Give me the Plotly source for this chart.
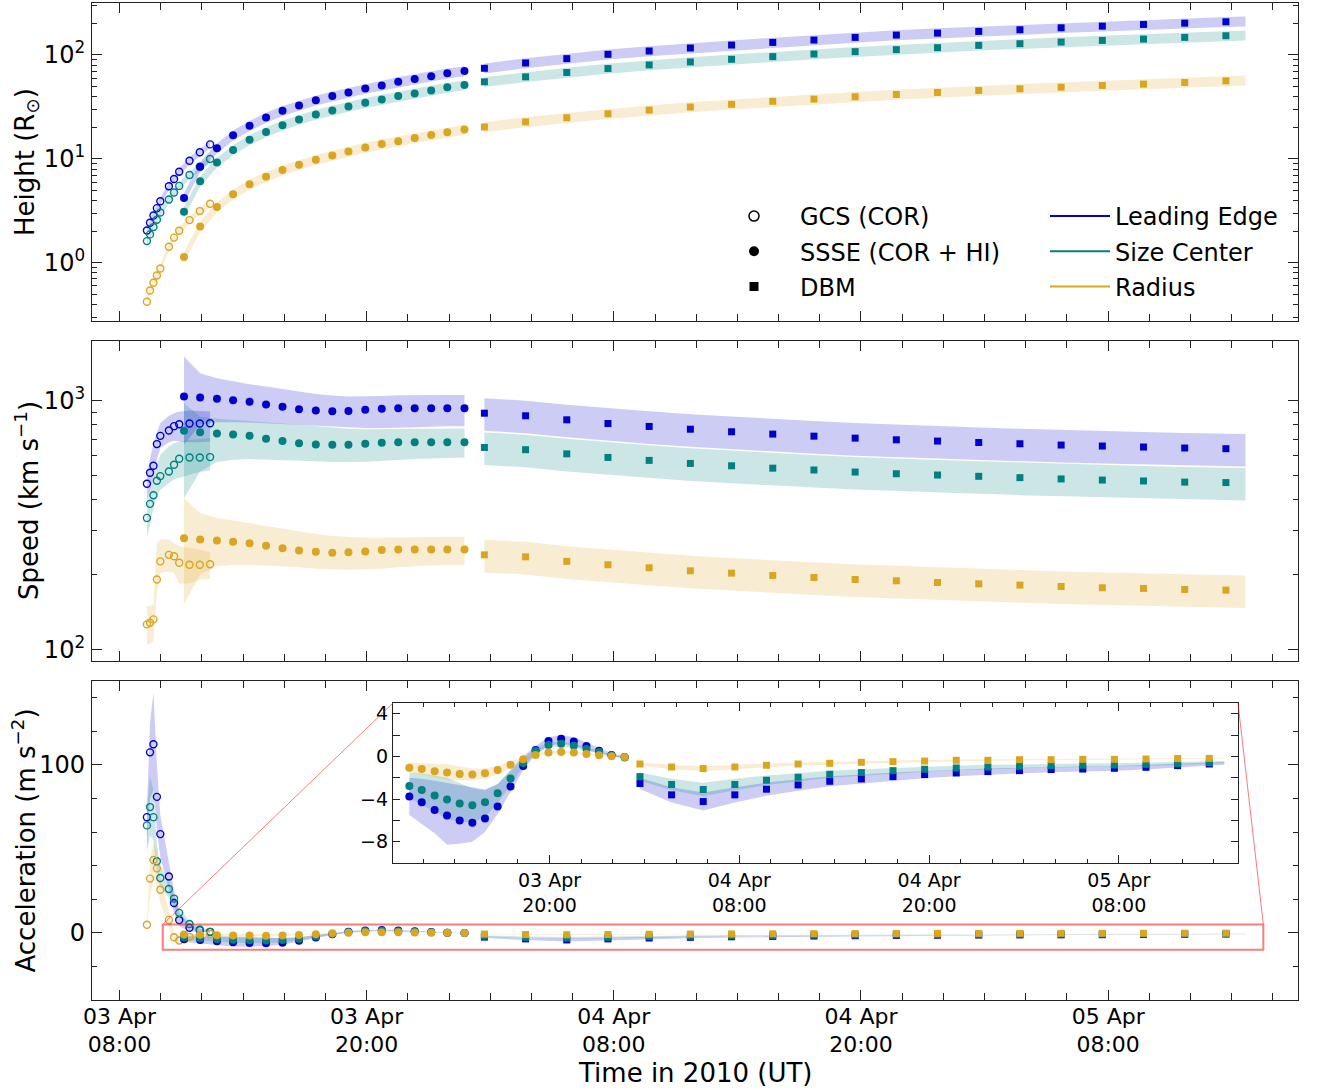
import plotly.graph_objects as go
import pandas as pd

W, H = 1317, 1090

# ---------------- data ----------------
gcs_time = ["2010-04-03 09:20", "2010-04-03 09:29", "2010-04-03 09:39", "2010-04-03 09:49",
            "2010-04-03 09:59", "2010-04-03 10:24", "2010-04-03 10:39", "2010-04-03 10:54",
            "2010-04-03 11:24", "2010-04-03 11:54", "2010-04-03 12:24"]
ssse_time = ["2010-04-03 11:08", "2010-04-03 11:55", "2010-04-03 12:44", "2010-04-03 13:31",
             "2010-04-03 14:19", "2010-04-03 15:07", "2010-04-03 15:55", "2010-04-03 16:43",
             "2010-04-03 17:32", "2010-04-03 18:20", "2010-04-03 19:07", "2010-04-03 19:56",
             "2010-04-03 20:44", "2010-04-03 21:32", "2010-04-03 22:20", "2010-04-03 23:08",
             "2010-04-03 23:55", "2010-04-04 00:45"]
dbm_time = ["2010-04-04 01:43", "2010-04-04 03:43", "2010-04-04 05:43", "2010-04-04 07:43",
            "2010-04-04 09:43", "2010-04-04 11:43", "2010-04-04 13:43", "2010-04-04 15:43",
            "2010-04-04 17:43", "2010-04-04 19:43", "2010-04-04 21:43", "2010-04-04 23:43",
            "2010-04-05 01:43", "2010-04-05 03:43", "2010-04-05 05:43", "2010-04-05 07:43",
            "2010-04-05 09:43", "2010-04-05 11:43", "2010-04-05 13:43"]
dbm_band_end_time = "2010-04-05 14:40"

# Height (R_sun)
h_gcs_le = [2.05, 2.43, 2.86, 3.36, 3.92, 5.46, 6.41, 7.54, 9.60, 11.6, 13.8]
h_gcs_sc = [1.62, 1.88, 2.21, 2.60, 3.05, 4.07, 4.75, 5.50, 7.00, 8.41, 10.0]
h_gcs_r = [0.423, 0.543, 0.644, 0.756, 0.883, 1.43, 1.75, 2.04, 2.58, 3.15, 3.70]
h_ssse_le = [4.22, 8.41, 12.7, 16.9, 20.9, 25.0, 29.1, 32.7, 36.6, 40.2, 43.6, 47.6, 50.9, 55.2, 58.9, 62.5, 66.8, 70.3]
h_ssse_sc = [3.10, 6.09, 9.26, 12.2, 15.3, 18.2, 21.1, 23.9, 26.7, 29.3, 32.0, 34.7, 37.4, 40.3, 42.7, 45.6, 48.8, 51.3]
h_ssse_r = [1.14, 2.24, 3.44, 4.57, 5.70, 6.75, 7.81, 8.79, 9.82, 10.8, 11.8, 12.9, 13.9, 14.8, 15.9, 17.0, 18.1, 19.2]
h_dbm_le = [74.5, 83.8, 92.2, 101.5, 109.2, 116.7, 124.6, 132.2, 139.2, 147.6, 155.4, 162.4, 168.5, 174.8, 182.6, 189.5, 196.6, 202.4, 208.5]
h_dbm_sc = [55.2, 61.6, 67.8, 74.0, 80.2, 85.7, 90.9, 96.4, 102.2, 107.6, 112.5, 117.5, 123.8, 128.4, 133.2, 138.1, 142.2, 147.6, 153.1]
h_dbm_r = [20.3, 22.7, 24.9, 27.2, 29.5, 31.6, 33.5, 35.8, 37.6, 39.6, 41.7, 43.6, 45.6, 47.3, 49.0, 50.9, 52.4, 54.4, 56.4]
h_dbm_end = [211.0, 155.0, 57.2]          # LE, SC, R at band end
h_rel_unc = {"gcs": 0.08, "ssse": 0.11, "dbm": 0.11}

# Speed (km/s)
v_gcs_le = [464, 514, 548, 670, 723, 760, 791, 805, 811, 811, 813]
v_gcs_sc = [338, 385, 417, 477, 498, 520, 553, 585, 592, 592, 594]
v_gcs_r = [126, 128, 132, 191, 226, 240, 237, 223, 219, 219, 220]
v_gcs_le_hi = [497, 589, 666, 748, 813, 871, 892, 906, 914, 912, 906]
v_gcs_le_lo = [394, 432, 489, 580, 646, 682, 691, 687, 682, 682, 687]
v_gcs_sc_hi = [382, 432, 489, 553, 607, 656, 676, 687, 697, 704, 708]
v_gcs_sc_lo = [281, 318, 371, 413, 439, 467, 482, 489, 504, 517, 524]
v_gcs_r_hi = [149, 149, 152, 268, 277, 277, 268, 260, 256, 252, 246]
v_gcs_r_lo = [105, 105, 108, 169, 203, 206, 203, 184, 184, 191, 192]
v_ssse_le = [1041, 1031, 1019, 1006, 991, 967, 946, 926, 914, 909, 911, 920, 929, 934, 934, 934, 934, 934]
v_ssse_sc = [758, 748, 739, 732, 723, 704, 689, 676, 668, 666, 666, 672, 678, 682, 682, 682, 682, 682]
v_ssse_r = [280, 277, 274, 271, 267, 261, 255, 250, 247, 245, 246, 247.5, 251, 252, 252, 252, 252, 252]
v_ssse_le_hi = [1507, 1291, 1233, 1196, 1167, 1142, 1114, 1090, 1067, 1050, 1041, 1041, 1047, 1054, 1057, 1057, 1057, 1057]
v_ssse_le_lo = [666, 801, 821, 821, 818, 814, 808, 801, 795, 789, 783, 777, 777, 780, 785, 789, 791, 791]
v_ssse_sc_hi = [979, 865, 847, 839, 831, 821, 811, 801, 791, 782, 772, 769, 769, 772, 774, 774, 774, 774]
v_ssse_sc_lo = [406, 520, 567, 580, 583, 581, 578, 574, 571, 567, 567, 569, 572, 578, 583, 587, 590, 592]
v_ssse_r_hi = [406, 354, 338, 330, 321, 313, 306, 299, 291, 286, 283, 281, 281, 282, 283, 284, 284, 284]
v_ssse_r_lo = [152, 200, 216, 219, 219, 218, 216, 214, 211, 210, 209, 210, 211, 214, 216, 218, 219, 219]
v_dbm_le = [892, 871, 839, 811, 789, 769, 751, 735, 721, 708, 697, 689, 680, 672, 664, 658, 652, 646, 642]
v_dbm_sc = [649, 636, 612, 592, 576, 560, 548, 536, 527, 517, 509, 503, 497, 491, 485, 480, 476, 471, 469]
v_dbm_r = [240, 235.5, 226, 219, 213, 207, 202.6, 198.3, 194.6, 191, 188.7, 185.8, 183.5, 181.3, 179, 176.9, 175.8, 174.2, 173.1]
v_dbm_end = [640, 467, 172.5]
v_dbm_rel_unc = 0.15

# Acceleration (m/s^2)
a_gcs_le = [68.9, 107.5, 112.3, 81.0, 58.8, 33.6, 17.8, 7.6, 3.0, 1.6, 0.6]
a_gcs_sc = [64.0, 74.9, 68.9, 42.6, 32.7, 26.1, 20.4, 11.9, 5.3, 2.0, 0.6]
a_gcs_r = [4.8, 32.3, 43.4, 38.4, 25.7, 7.7, -2.6, -4.6, -2.4, -1.5, -0.6]
a_gcs_le_hi = [73, 125, 143, 100, 70, 42, 25, 12, 5, 2.5, 1.2]
a_gcs_le_lo = [50, 80, 85, 62, 45, 26, 12, 4, 1, 0.5, 0]
a_gcs_sc_hi = [75, 93, 85, 52, 40, 30, 23, 14, 7, 3, 1.2]
a_gcs_sc_lo = [48, 58, 55, 35, 27, 21, 16, 9, 3.5, 1, 0]
a_gcs_r_hi = [6, 42, 54, 48, 33, 13, 0, -2, -1, -0.5, 0]
a_gcs_r_lo = [3.5, 22, 32, 28, 18, 3, -5, -7, -4, -2, -1]
a_ssse_le = [-3.77, -4.30, -5.02, -5.55, -6.01, -6.23, -5.83, -4.70, -2.83, -0.90, 0.59, 1.43, 1.65, 1.40, 0.96, 0.53, 0.12, -0.06]
a_ssse_sc = [-2.78, -3.15, -3.67, -4.05, -4.42, -4.58, -4.30, -3.46, -2.08, -0.62, 0.50, 1.06, 1.19, 1.00, 0.68, 0.40, 0.09, -0.12]
a_ssse_r = [-1.06, -1.19, -1.40, -1.52, -1.65, -1.71, -1.59, -1.28, -0.78, -0.28, 0.12, 0.37, 0.40, 0.35, 0.22, 0.09, 0.0, -0.06]
a_ssse_le_hi = [-2.0, -2.1, -2.3, -2.5, -2.7, -2.9, -3.1, -2.6, -1.3, 0.0, 1.0, 1.8, 2.0, 1.8, 1.3, 0.8, 0.3, 0.05]
a_ssse_le_lo = [-5.5, -6.3, -7.2, -8.3, -8.2, -8.0, -7.1, -5.4, -3.3, -1.3, 0.2, 1.0, 1.2, 1.0, 0.6, 0.3, 0.0, -0.15]
a_ssse_sc_hi = [-1.5, -1.6, -1.8, -2.0, -2.5, -3.0, -3.2, -2.6, -1.4, -0.2, 0.8, 1.3, 1.4, 1.2, 0.85, 0.5, 0.15, -0.05]
a_ssse_sc_lo = [-3.9, -4.5, -5.2, -5.9, -6.1, -6.2, -5.7, -4.4, -2.7, -0.95, 0.25, 0.8, 0.95, 0.8, 0.5, 0.3, 0.0, -0.2]
a_ssse_r_hi = [-0.6, -0.65, -0.7, -0.75, -0.95, -1.15, -1.15, -0.85, -0.45, -0.05, 0.3, 0.5, 0.52, 0.45, 0.32, 0.18, 0.07, 0.0]
a_ssse_r_lo = [-1.45, -1.7, -1.95, -2.2, -2.25, -2.25, -2.1, -1.7, -1.1, -0.5, -0.05, 0.22, 0.28, 0.25, 0.12, 0.0, -0.07, -0.12]
a_dbm_le = [-2.55, -3.61, -4.24, -3.61, -3.08, -2.68, -2.34, -2.12, -1.90, -1.71, -1.56, -1.43, -1.34, -1.24, -1.19, -1.12, -1.03, -0.87, -0.72]
a_dbm_sc = [-1.90, -2.64, -3.11, -2.64, -2.24, -1.96, -1.68, -1.52, -1.34, -1.21, -1.09, -1.00, -0.93, -0.87, -0.84, -0.81, -0.75, -0.68, -0.59]
a_dbm_r = [-0.72, -1.00, -1.15, -1.00, -0.84, -0.72, -0.65, -0.56, -0.50, -0.44, -0.37, -0.37, -0.31, -0.31, -0.28, -0.28, -0.25, -0.21, -0.19]
a_dbm_end = [-0.66, -0.55, -0.17]
a_dbm_rel_unc = 0.20

x_range = ["2010-04-03 06:40", "2010-04-05 17:13"]
inset_x_range = ["2010-04-03 10:06", "2010-04-05 15:32"]
inset_y_range = [-10, 5]
acc_range = [-40, 150]

x_tick0 = "2010-04-03 08:00"
legend_methods = ["GCS (COR)", "SSSE (COR + HI)", "DBM"]
legend_features = ["Leading Edge", "Size Center", "Radius"]

# ---------------- styling ----------------
C_LE, C_SC, C_R = "#0000CD", "#008080", "#DAA520"
COLORS = [C_LE, C_SC, C_R]
FONT = "DejaVu Sans"


def rgba(h, a):
    h = h.lstrip("#")
    return "rgba(%d,%d,%d,%s)" % (int(h[0:2], 16), int(h[2:4], 16), int(h[4:6], 16), a)


XD = [92 / W, 1298 / W]
YD1 = [1 - 321 / H, 1 - 3 / H]
YD2 = [1 - 661 / H, 1 - 341 / H]
YD3 = [1 - 1000 / H, 1 - 681 / H]
XD4 = [393 / W, 1238 / W]
YD4 = [1 - 863 / H, 1 - 703 / H]

fig = go.Figure()


def add_band(x, lo, hi, color, xa, ya):
    x = list(x)
    fig.add_trace(go.Scatter(x=x + x[::-1], y=list(hi) + list(lo)[::-1], fill="toself",
                             fillcolor=rgba(color, 0.2), line=dict(width=0, color=rgba(color, 0)),
                             mode="lines", hoverinfo="skip", showlegend=False, xaxis=xa, yaxis=ya))


def add_pts(x, y, color, kind, xa, ya):
    if kind == "open":
        m = dict(symbol="circle-open", size=7, color=color, line=dict(width=1.4, color=color))
    elif kind == "filled":
        m = dict(symbol="circle", size=8, color=color, line=dict(width=0))
    else:
        m = dict(symbol="square", size=7, color=color, line=dict(width=0))
    fig.add_trace(go.Scatter(x=x, y=y, mode="markers", marker=m, showlegend=False,
                             xaxis=xa, yaxis=ya))


def rel_band(vals, r):
    return [v * (1 - r) for v in vals], [v * (1 + r) for v in vals]


dbm_band_time = dbm_time + [dbm_band_end_time]

# ---- Panel 1: height ----
h_sets = {"gcs": [h_gcs_le, h_gcs_sc, h_gcs_r], "ssse": [h_ssse_le, h_ssse_sc, h_ssse_r],
          "dbm": [h_dbm_le, h_dbm_sc, h_dbm_r]}
for i, c in enumerate(COLORS):
    lo, hi = rel_band(h_sets["gcs"][i], h_rel_unc["gcs"])
    add_band(gcs_time, lo, hi, c, "x", "y")
    lo, hi = rel_band(h_sets["ssse"][i], h_rel_unc["ssse"])
    add_band(ssse_time, lo, hi, c, "x", "y")
    lo, hi = rel_band(h_sets["dbm"][i] + [h_dbm_end[i]], h_rel_unc["dbm"])
    add_band(dbm_band_time, lo, hi, c, "x", "y")
for i, c in enumerate(COLORS):
    add_pts(gcs_time, h_sets["gcs"][i], c, "open", "x", "y")
for i, c in enumerate(COLORS):
    add_pts(ssse_time, h_sets["ssse"][i], c, "filled", "x", "y")
for i, c in enumerate(COLORS):
    add_pts(dbm_time, h_sets["dbm"][i], c, "square", "x", "y")

# ---- Panel 2: speed ----
v_gcs = [v_gcs_le, v_gcs_sc, v_gcs_r]
v_gcs_band = [(v_gcs_le_lo, v_gcs_le_hi), (v_gcs_sc_lo, v_gcs_sc_hi), (v_gcs_r_lo, v_gcs_r_hi)]
v_ssse = [v_ssse_le, v_ssse_sc, v_ssse_r]
v_ssse_band = [(v_ssse_le_lo, v_ssse_le_hi), (v_ssse_sc_lo, v_ssse_sc_hi), (v_ssse_r_lo, v_ssse_r_hi)]
v_dbm = [v_dbm_le, v_dbm_sc, v_dbm_r]
for i, c in enumerate(COLORS):
    add_band(gcs_time, v_gcs_band[i][0], v_gcs_band[i][1], c, "x2", "y2")
    add_band(ssse_time, v_ssse_band[i][0], v_ssse_band[i][1], c, "x2", "y2")
    lo, hi = rel_band(v_dbm[i] + [v_dbm_end[i]], v_dbm_rel_unc)
    add_band(dbm_band_time, lo, hi, c, "x2", "y2")
for i, c in enumerate(COLORS):
    add_pts(gcs_time, v_gcs[i], c, "open", "x2", "y2")
for i, c in enumerate(COLORS):
    add_pts(ssse_time, v_ssse[i], c, "filled", "x2", "y2")
for i, c in enumerate(COLORS):
    add_pts(dbm_time, v_dbm[i], c, "square", "x2", "y2")

# ---- Panel 3 (+ inset): acceleration ----
a_gcs = [a_gcs_le, a_gcs_sc, a_gcs_r]
a_gcs_band = [(a_gcs_le_lo, a_gcs_le_hi), (a_gcs_sc_lo, a_gcs_sc_hi), (a_gcs_r_lo, a_gcs_r_hi)]
a_ssse = [a_ssse_le, a_ssse_sc, a_ssse_r]
a_ssse_band = [(a_ssse_le_lo, a_ssse_le_hi), (a_ssse_sc_lo, a_ssse_sc_hi), (a_ssse_r_lo, a_ssse_r_hi)]
a_dbm = [a_dbm_le, a_dbm_sc, a_dbm_r]
for xa, ya, with_gcs in [("x3", "y3", True), ("x4", "y4", False)]:
    for i, c in enumerate(COLORS):
        if with_gcs:
            add_band(gcs_time, a_gcs_band[i][0], a_gcs_band[i][1], c, xa, ya)
        add_band(ssse_time, a_ssse_band[i][0], a_ssse_band[i][1], c, xa, ya)
        lo, hi = rel_band(a_dbm[i] + [a_dbm_end[i]], a_dbm_rel_unc)
        add_band(dbm_band_time, lo, hi, c, xa, ya)
    if with_gcs:
        for i, c in enumerate(COLORS):
            add_pts(gcs_time, a_gcs[i], c, "open", xa, ya)
    for i, c in enumerate(COLORS):
        add_pts(ssse_time, a_ssse[i], c, "filled", xa, ya)
    for i, c in enumerate(COLORS):
        add_pts(dbm_time, a_dbm[i], c, "square", xa, ya)

# ---- legend entries ----
leg_markers = [dict(symbol="circle-open", size=10, color="black", line=dict(width=1.5, color="black")),
               dict(symbol="circle", size=10, color="black"),
               dict(symbol="square", size=9, color="black")]
for i, name in enumerate(legend_methods):
    fig.add_trace(go.Scatter(x=[None], y=[None], mode="markers", marker=leg_markers[i], name=name,
                             legend="legend", legendgroup="m%d" % i, xaxis="x", yaxis="y"))
for i, name in enumerate(legend_features):
    fig.add_trace(go.Scatter(x=[None], y=[None], mode="lines", line=dict(color=COLORS[i], width=2),
                             name=name, legend="legend2", legendgroup="f%d" % i, xaxis="x", yaxis="y"))

# ---------------- axes ----------------
H12 = 12 * 3600 * 1000
H2 = 2 * 3600 * 1000
tick_common = dict(showline=True, linecolor="#222", linewidth=1.2, mirror="allticks", ticks="inside",
                   showgrid=False, zeroline=False, tickcolor="#222", tickwidth=1.2, automargin=False)


def date_axis(domain, anchor, show_labels, rng, size, ticklen, minorlen, **kw):
    d = dict(tick_common, domain=domain, anchor=anchor, type="date", range=rng,
             tickmode="linear", tick0=x_tick0, dtick=H12, tickformat="%d %b<br>%H:%M",
             showticklabels=show_labels, ticklen=ticklen,
             tickfont=dict(family=FONT, size=size, color="black"),
             minor=dict(ticks="inside", dtick=H2, tick0=x_tick0, ticklen=minorlen,
                        tickcolor="#222", tickwidth=1.2, showgrid=False))
    d.update(kw)
    return d


def log_minor(decades):
    vals = []
    for d in decades:
        vals += [k * 10 ** d for k in range(2, 10)]
    return vals


fig.update_layout(
    width=W, height=H, margin=dict(l=0, r=0, t=0, b=0, autoexpand=False),
    paper_bgcolor="white", plot_bgcolor="white",
    font=dict(family=FONT, color="black"),
    xaxis=date_axis(XD, "y", False, x_range, 22, 10, 7),
    xaxis2=date_axis(XD, "y2", False, x_range, 22, 10, 7, matches="x"),
    xaxis3=date_axis(XD, "y3", True, x_range, 22, 10, 7, matches="x", ticklabelstandoff=-4),
    xaxis4=date_axis(XD4, "y4", True, inset_x_range, 19, 8, 4),
    yaxis=dict(tick_common, domain=YD1, anchor="x", type="log", range=[-0.559, 2.50],
               tickmode="array", tickvals=[1, 10, 100],
               ticktext=["10<sup>0</sup>", "10<sup>1</sup>", "10<sup>2</sup>"], ticklen=10,
               tickfont=dict(family=FONT, size=24, color="black"), ticklabelstandoff=1,
               minor=dict(ticks="inside", tickmode="array", tickvals=log_minor([-1, 0, 1, 2]),
                          ticklen=5, tickcolor="#222", tickwidth=1.2, showgrid=False)),
    yaxis2=dict(tick_common, domain=YD2, anchor="x2", type="log", range=[1.953, 3.241],
                tickmode="array", tickvals=[100, 1000],
                ticktext=["10<sup>2</sup>", "10<sup>3</sup>"], ticklen=10,
                tickfont=dict(family=FONT, size=24, color="black"), ticklabelstandoff=1,
                minor=dict(ticks="inside", tickmode="array", tickvals=log_minor([1, 2, 3]),
                           ticklen=5, tickcolor="#222", tickwidth=1.2, showgrid=False)),
    yaxis3=dict(tick_common, domain=YD3, anchor="x3", range=acc_range, tickmode="linear",
                tick0=0, dtick=100, ticklen=10,
                tickfont=dict(family=FONT, size=24, color="black"), ticklabelstandoff=1,
                minor=dict(ticks="inside", dtick=20, tick0=0, ticklen=5, tickcolor="#222",
                           tickwidth=1.2, showgrid=False)),
    yaxis4=dict(tick_common, domain=YD4, anchor="x4", range=inset_y_range, tickmode="linear",
                tick0=0, dtick=4, ticklen=7,
                tickfont=dict(family=FONT, size=19, color="black"),
                minor=dict(ticks="inside", dtick=2, tick0=0, ticklen=7, tickcolor="#222",
                           tickwidth=1.2, showgrid=False)),
    legend=dict(x=708 / W, y=1 - 194 / H, xanchor="left", yanchor="top",
                font=dict(family=FONT, size=24, color="black"), bgcolor="rgba(0,0,0,0)",
                itemwidth=82, tracegroupgap=1),
    legend2=dict(x=1045 / W, y=1 - 194 / H, xanchor="left", yanchor="top",
                 font=dict(family=FONT, size=24, color="black"), bgcolor="rgba(0,0,0,0)",
                 itemwidth=60, tracegroupgap=1),
)

# ---------------- annotations (axis titles) ----------------
titles = [("Height (R<sub>⊙</sub>)", (YD1[0] + YD1[1]) / 2, 27),
          ("Speed (km s<sup>−1</sup>)", (YD2[0] + YD2[1]) / 2, 27),
          ("Acceleration (m s<sup>−2</sup>)", (YD3[0] + YD3[1]) / 2, 24)]
for txt, yc, xpx in titles:
    fig.add_annotation(text=txt, x=xpx / W, y=yc, xref="paper", yref="paper", textangle=-90,
                       showarrow=False, xanchor="center", yanchor="middle",
                       font=dict(family=FONT, size=26, color="black"))
fig.add_annotation(text="Time in 2010 (UT)", x=(XD[0] + XD[1]) / 2, y=1 - 1073 / H,
                   xref="paper", yref="paper", showarrow=False, xanchor="center", yanchor="middle",
                   font=dict(family=FONT, size=26, color="black"))

# ---------------- inset indicator ----------------
X0, X1 = pd.Timestamp(x_range[0]), pd.Timestamp(x_range[1])


def xpaper(ts):
    f = (pd.Timestamp(ts) - X0) / (X1 - X0)
    return XD[0] + f * (XD[1] - XD[0])


def ypaper_acc(v):
    f = (v - acc_range[0]) / (acc_range[1] - acc_range[0])
    return YD3[0] + f * (YD3[1] - YD3[0])


RED = "rgba(240,40,40,0.6)"
fig.add_shape(type="rect", xref="x3", yref="y3", x0=inset_x_range[0], x1=inset_x_range[1],
              y0=inset_y_range[0], y1=inset_y_range[1], line=dict(color=RED, width=2))
fig.add_shape(type="line", xref="paper", yref="paper", x0=xpaper(inset_x_range[0]),
              y0=ypaper_acc(inset_y_range[1]), x1=XD4[0], y1=YD4[1], line=dict(color=RED, width=1))
fig.add_shape(type="line", xref="paper", yref="paper", x0=xpaper(inset_x_range[1]),
              y0=ypaper_acc(inset_y_range[1]), x1=XD4[1], y1=YD4[1], line=dict(color=RED, width=1))

fig.write_html("out.html", config={"displayModeBar": False},
               post_script="document.body.style.margin='0';")
